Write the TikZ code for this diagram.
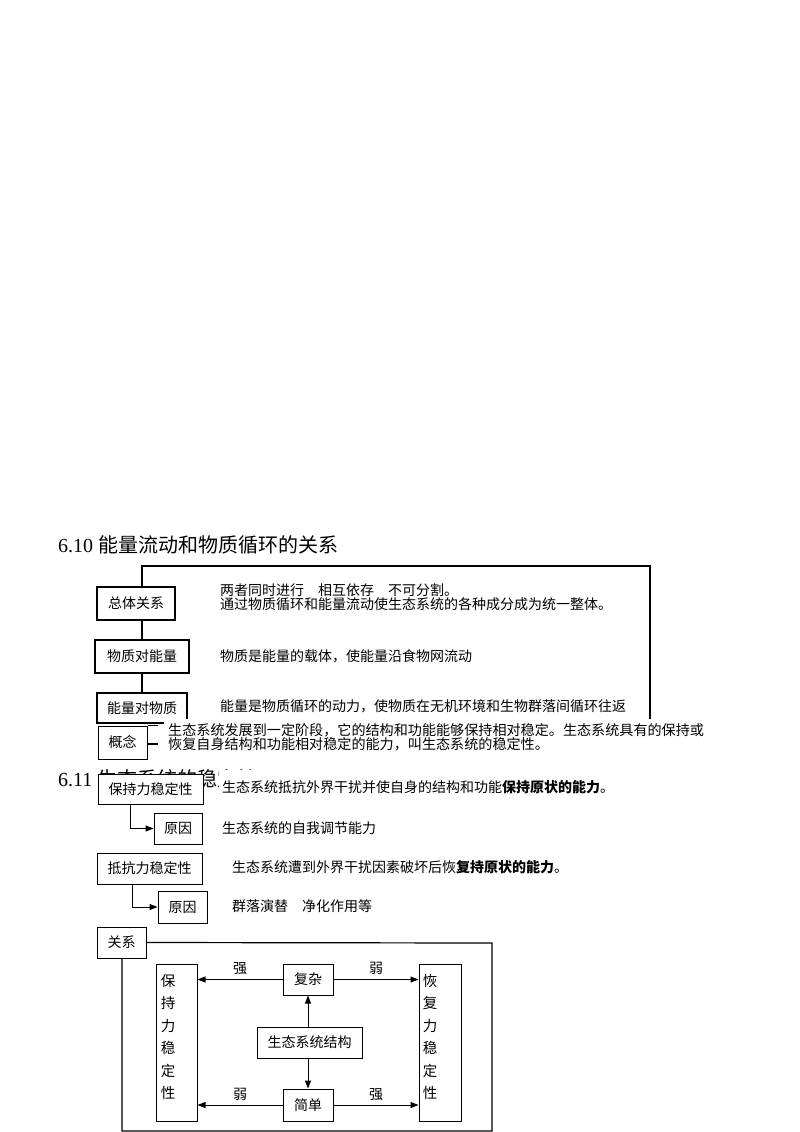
\documentclass[tikz,border=0pt]{standalone}
\usepackage{fontspec}
\setmainfont{Liberation Serif}
\newfontfamily\cjk{Noto Sans CJK SC}
\usetikzlibrary{arrows.meta}
\begin{document}
\begin{tikzpicture}[x=1pt,y=-1pt,
  cjkfont/.style={font=\cjk\fontsize{14}{14}\selectfont},
  thickbox/.style={draw, line width=2.4pt, fill=white, inner sep=0, cjkfont},
  thinbox/.style={draw, line width=1pt, fill=white, inner sep=0, cjkfont},
  txt/.style={anchor=west, inner sep=0, align=left, cjkfont},
  wtxt/.style={anchor=west, inner sep=3pt, align=left, fill=white, cjkfont},
  vtxt/.style={inner sep=0, align=center, font=\cjk\fontsize{14.5}{22.4}\selectfont},
  framel/.style={line width=2.4pt},
  rel/.style={line width=1.2pt},
  arr/.style={line width=1pt, -{Triangle[length=8pt,width=6pt]}},
  lbl/.style={inner sep=0, cjkfont},
  head/.style={anchor=west, inner sep=0, font=\fontsize{20}{24}\selectfont}]
\useasboundingbox (0,0) rectangle (800,1132);

% ---------- 6.10 ----------
\node[head] (h1) at (58,545) {6.10 {\cjk 能量流动和物质循环的关系}};

\coordinate (tl) at (142,566);
\coordinate (tr) at (650,566);
\coordinate (br) at (650,722);

\node[thickbox, minimum width=78, minimum height=33] (zt) at (136,603.5) {总体关系};
\node[thickbox, minimum width=94, minimum height=33] (wz) at (142,656.5) {物质对能量};
\node[thickbox, minimum width=90, minimum height=30] (nl) at (142,708) {能量对物质};

\draw[framel] (zt.north -| tl) -- (tl) -- (tr) -- (br);
\draw[framel] (zt.south -| tl) -- (wz.north -| tl);
\draw[framel] (wz.south -| tl) -- (nl.north -| tl);

\node[txt] (t1) at (220,597) {两者同时进行\quad 相互依存\quad 不可分割。\\通过物质循环和能量流动使生态系统的各种成分成为统一整体。};
\node[txt] (t2) at (220,656) {物质是能量的载体，使能量沿食物网流动};
\node[txt] (t3) at (220,706) {能量是物质循环的动力，使物质在无机环境和生物群落间循环往返};

% ---------- 概念 ----------
\node[wtxt, inner sep=4pt, font=\cjk\fontsize{14.1}{14}\selectfont] (t4) at (164,737) {生态系统发展到一定阶段，它的结构和功能能够保持相对稳定。生态系统具有的保持或\\恢复自身结构和功能相对稳定的能力，叫生态系统的稳定性。};
\node[thinbox, minimum width=49, minimum height=33] (gn) at (122.5,742.5) {概念};
\draw[line width=1.6pt] (gn.north east) -- ([xshift=10]gn.north east);
\draw[line width=1.6pt] ([yshift=-1.5]gn.east) -- ([xshift=10,yshift=-1.5]gn.east);

% ---------- 6.11 ----------
\node[head] (h2) at (58,779) {6.11 {\cjk 生态系统的稳定性}};

\node[thinbox, minimum width=105, minimum height=30] (bc) at (150.5,789) {保持力稳定性};
\node[wtxt, inner xsep=3pt, inner ysep=10pt] (t5) at (219,787) {生态系统抵抗外界干扰并使自身的结构和功能{\bfseries 保持原状的能力}。};
\node[thinbox, minimum width=48, minimum height=31] (yy1) at (178,828.5) {原因};
\node[txt] (t6) at (222,828) {生态系统的自我调节能力};
\coordinate (a1) at (130,0);
\draw[arr] (bc.south -| a1) |- (yy1.west);

\node[thinbox, minimum width=105, minimum height=31] (dk) at (149.5,868.5) {抵抗力稳定性};
\node[txt] (t7) at (232,867) {生态系统遭到外界干扰因素破坏后恢{\bfseries 复持原状的能力}。};
\node[thinbox, minimum width=49, minimum height=32] (yy2) at (182.5,907) {原因};
\node[txt] (t8) at (232,906) {群落演替\quad 净化作用等};
\coordinate (a2) at (132,0);
\draw[arr] (dk.south -| a2) |- (yy2.west);

% ---------- 关系 ----------
\node[thinbox, minimum width=49, minimum height=31] (gx) at (121.5,942.5) {关系};
\coordinate (f1) at (492,943);
\coordinate (f2) at (492,1131);
\coordinate (f3) at (122,1131);
\draw[rel] (gx.east) -- (f1) -- (f2) -- (f3) -- (gx.south -| f3);

\node[thinbox, minimum width=41, minimum height=157] (bcv) at (176.5,1042.5) {};
\node[vtxt] (bcvt) at (168,1037) {保\\持\\力\\稳\\定\\性};
\node[thinbox, minimum width=42, minimum height=157] (hfv) at (440,1042.5) {};
\node[vtxt] (hfvt) at (430,1037) {恢\\复\\力\\稳\\定\\性};

\node[thinbox, minimum width=50, minimum height=31] (fz) at (308,979.5) {复杂};
\node[thinbox, minimum width=105, minimum height=31] (jg) at (309.5,1042.5) {生态系统结构};
\node[thinbox, minimum width=50, minimum height=32] (jd) at (308,1105) {简单};

\draw[arr] (fz.west) -- (fz.west -| bcv.east) node[lbl, midway, above=4pt] {强};
\draw[arr] (fz.east) -- (fz.east -| hfv.west) node[lbl, midway, above=4pt] {弱};
\draw[arr] (jd.west) -- (jd.west -| bcv.east) node[lbl, midway, above=4pt] {弱};
\draw[arr] (jd.east) -- (jd.east -| hfv.west) node[lbl, midway, above=4pt] {强};
\draw[arr] (jg.north -| fz) -- (fz.south);
\draw[arr] (jg.south -| jd) -- (jd.north);
\end{tikzpicture}
\end{document}
